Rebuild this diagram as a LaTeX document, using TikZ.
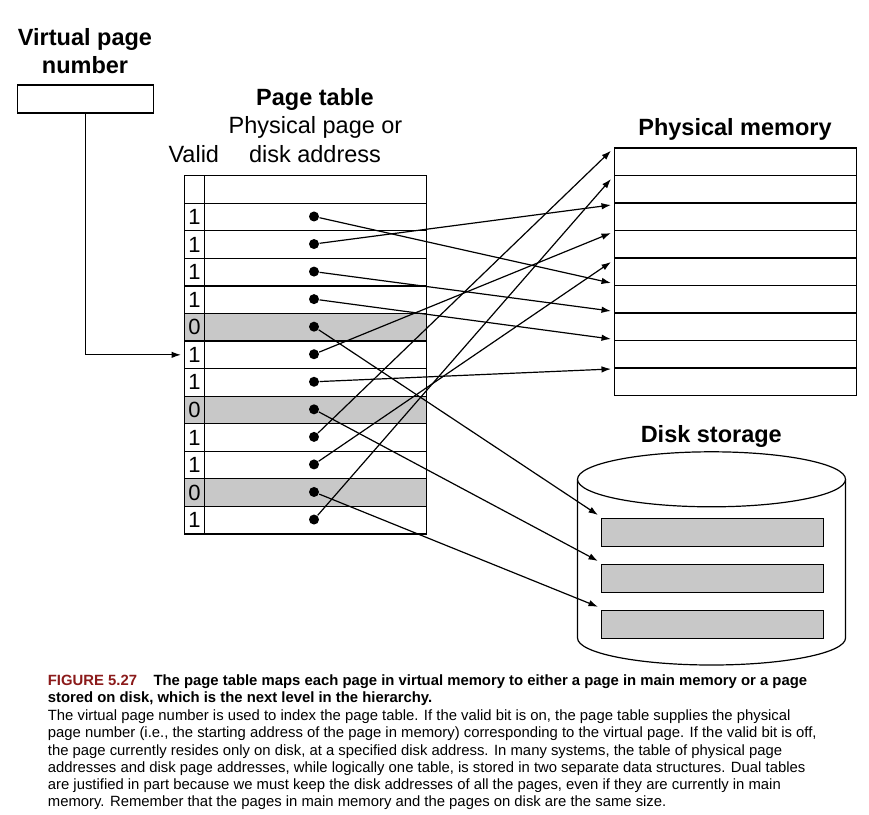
\documentclass[tikz,border=0pt]{standalone}
\usepackage{fontspec}
\setmainfont{Liberation Sans}
\usetikzlibrary{arrows.meta,calc}
\definecolor{cellgray}{RGB}{200,200,200}
\definecolor{figred}{RGB}{139,26,26}
\begin{document}
\begin{tikzpicture}[x=1pt,y=-1pt, line width=1.2pt,
  tcell/.style={draw, inner sep=0pt, anchor=north west, minimum height=27.55pt},
  pdot/.style={circle, fill=black, inner sep=0pt, minimum size=10pt},
  arr/.style={-{Latex[length=9.5pt,width=6.5pt]}, line width=1.2pt},
  ttl/.style={font=\fontsize{23.5}{28}\selectfont\bfseries, inner sep=0pt, anchor=base},
  lbl/.style={font=\fontsize{23.5}{28}\selectfont, inner sep=0pt, anchor=base},
  captxt/.style={font=\fontsize{14.85}{17}\selectfont, inner sep=0pt, anchor=base west},
  ]
\useasboundingbox (0,0) rectangle (869,814);

% Virtual page number
\node[ttl] (vpnt1) at (85,45) {Virtual page};
\node[ttl] (vpnt2) at (85,73.3) {number};
\node[tcell, minimum width=136pt, minimum height=28pt] (vpn) at (16.7,84.3) {};

% Page table titles
\node[ttl] (ptt) at (315,105) {Page table};
\node[lbl] (pp1) at (315.5,133.3) {Physical page or};
\node[lbl] (pp2) at (315,162.3) {disk address};
\node[lbl] (valid) at (193.8,162.3) {Valid};

% Page table
\node[tcell, minimum width=20pt] (vh) at (184,175) {};
\node[tcell, minimum width=222pt] (ah) at (204,175) {};
\foreach \i/\v/\s in {1/1/white,2/1/white,3/1/white,4/1/white,5/0/cellgray,6/1/white,
                      7/1/white,8/0/cellgray,9/1/white,10/1/white,11/0/cellgray,12/1/white}{
  \pgfmathsetmacro\rtop{202.7+27.55*(\i-1)}
  \pgfmathsetmacro\rmid{\rtop+13.775}
  \node[tcell, minimum width=20pt, fill=\s, font=\fontsize{22}{26}\selectfont] (v\i) at (184,\rtop) {\v};
  \node[tcell, minimum width=222pt, fill=\s] (a\i) at (204,\rtop) {};
  \node[pdot] (d\i) at (314,\rmid) {};
}

% Physical memory
\node[ttl] (pmt) at (735,135) {Physical memory};
\foreach \i in {1,...,9}{
  \pgfmathsetmacro\mtop{147.3+27.52*(\i-1)}
  \node[tcell, minimum width=242pt, minimum height=27.52pt] (pm\i) at (614,\mtop) {};
}
\coordinate (m0) at (611,150.7);
\coordinate (m1) at (611,179);
\coordinate (m2) at (611,205);
\coordinate (m3) at (611,233);
\coordinate (m4) at (611,262);
\coordinate (m5) at (611,283);
\coordinate (m6) at (611,311);
\coordinate (m7) at (611,339);
\coordinate (m8) at (611,369);

% Disk storage
\node[ttl] (dst) at (711.3,442.7) {Disk storage};
\draw (577.5,479.3) -- (577.5,638) arc[start angle=180, end angle=360, x radius=134pt, y radius=27pt] -- (845.5,479.3);
\draw[fill=white] (711.5,479.3) ellipse [x radius=134pt, y radius=27.5pt];
\node[tcell, fill=cellgray, minimum width=222pt, minimum height=28pt] (dp1) at (600.7,517.7) {};
\node[tcell, fill=cellgray, minimum width=222pt, minimum height=28pt] (dp2) at (600.7,563.7) {};
\node[tcell, fill=cellgray, minimum width=222pt, minimum height=28pt] (dp3) at (600.7,609.5) {};

% Connectors
\draw[arr] (vpn.south) |- ([xshift=-3pt]v6.west);
\draw[arr] (d1) -- (m5);
\draw[arr] (d2) -- (m2);
\draw[arr] (d3) -- (m6);
\draw[arr] (d4) -- (m7);
\draw[arr] (d6) -- (m3);
\draw[arr] (d7) -- (m8);
\draw[arr] (d9) -- (m0);
\draw[arr] (d10) -- (m4);
\draw[arr] (d12) -- (m1);
\draw[arr] (d5) -- ([shift={(-2.7,-2.7)}]dp1.north west);
\draw[arr] (d8) -- ([shift={(-2.7,-2.7)}]dp2.north west);
\draw[arr] (d11) -- ([shift={(-2.7,-2.7)}]dp3.north west);

% Caption
\node[captxt, font=\fontsize{14.85}{17}\selectfont\bfseries] (c1) at (47.3,685.7) {\textcolor{figred}{FIGURE 5.27}\hspace{16.5pt}The page table maps each page in virtual memory to either a page in main memory or a page};
\node[captxt, font=\fontsize{14.85}{17}\selectfont\bfseries] (c2) at (47.3,702.3) {stored on disk, which is the next level in the hierarchy.};
\node[captxt] (c3) at (47.3,720) {The virtual page number is used to index the page table. If the valid bit is on, the page table supplies the physical};
\node[captxt] (c4) at (47.3,737.3) {page number (i.e., the starting address of the page in memory) corresponding to the virtual page. If the valid bit is off,};
\node[captxt] (c5) at (47.3,755) {the page currently resides only on disk, at a specified disk address. In many systems, the table of physical page};
\node[captxt] (c6) at (47.3,772.3) {addresses and disk page addresses, while logically one table, is stored in two separate data structures. Dual tables};
\node[captxt] (c7) at (47.3,789) {are justified in part because we must keep the disk addresses of all the pages, even if they are currently in main};
\node[captxt] (c8) at (47.3,806.7) {memory. Remember that the pages in main memory and the pages on disk are the same size.};
\end{tikzpicture}
\end{document}
